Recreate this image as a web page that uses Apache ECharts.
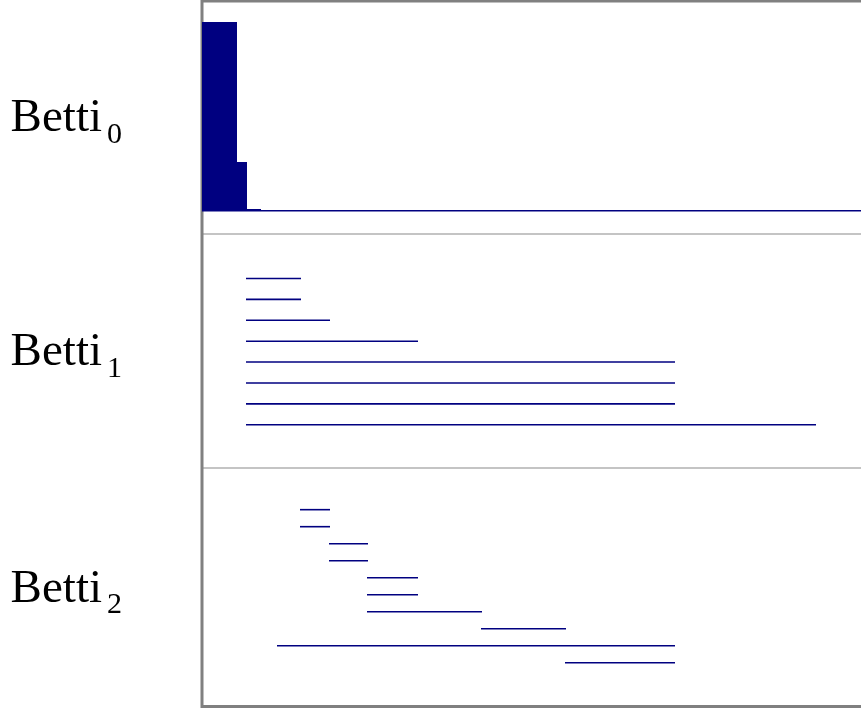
<!DOCTYPE html>
<html>
<head>
<meta charset="utf-8">
<script src="https://cdn.jsdelivr.net/npm/echarts@6/dist/echarts.min.js"></script>
<style>
  html, body { margin: 0; padding: 0; background: #fff; }
  #main { width: 861px; height: 720px; }
</style>
</head>
<body>
<div id="main"></div>
<script>
// barcode data: birth / death of each interval
var X_MAX = 6.63;
var betti0Deaths = [0.35, 0.45, 0.59, Infinity];
var betti0Counts = [140, 47, 1, 1];
var betti1Births = [0.44, 0.44, 0.44, 0.44, 0.44, 0.44, 0.44, 0.44];
var betti1Deaths = [0.99, 0.99, 1.28, 2.16, 4.73, 4.73, 4.73, 6.14];
var betti2Births = [0.98, 0.98, 1.27, 1.27, 1.65, 1.65, 1.65, 2.79, 0.75, 3.63];
var betti2Deaths = [1.28, 1.28, 1.66, 1.66, 2.16, 2.16, 2.80, 3.64, 4.73, 4.73];
var labels = ['0', '1', '2'];

var myChart = echarts.init(document.getElementById('main'));

// rows: [index, birth, death]
var rows0 = [];
betti0Deaths.forEach(function (d, k) {
    for (var j = 0; j < betti0Counts[k]; j++) {
        rows0.push([rows0.length, 0, d === Infinity ? X_MAX : d]);
    }
});
var toRows = function (births, deaths) {
    var res = [];
    births.forEach(function (b, i) {
        res.push([i, b, deaths[i] === Infinity ? X_MAX : deaths[i]]);
    });
    return res;
};
var rows1 = toRows(betti1Births, betti1Deaths);
var rows2 = toRows(betti2Births, betti2Deaths);

var barRenderer = function (width) {
    return function (params, api) {
        var a = api.coord([api.value(1), api.value(0)]);
        var b = api.coord([api.value(2), api.value(0)]);
        return {
            type: 'line',
            shape: { x1: a[0], y1: a[1], x2: b[0], y2: b[1] },
            style: { stroke: '#000080', lineWidth: width }
        };
    };
};

var panels = [
    { top: 0, height: 234, min: -22.7, max: 211.3 },
    { top: 234, height: 234, min: -2.13, max: 9.07 },
    { top: 468, height: 239, min: -2.45, max: 11.6 }
];

var grids = [], xAxes = [], yAxes = [];
panels.forEach(function (p, i) {
    grids.push({
        left: 202, width: 663, top: p.top, height: p.height,
        outerBoundsMode: 'none',
        show: true, backgroundColor: 'transparent',
        borderColor: '#c4c4c4', borderWidth: 2, z: 0
    });
    xAxes.push({ gridIndex: i, type: 'value', min: 0, max: X_MAX, show: false });
    yAxes.push({
        gridIndex: i, type: 'value', inverse: true, min: p.min, max: p.max,
        axisLine: { show: false }, axisTick: { show: false },
        axisLabel: { show: false }, splitLine: { show: false },
        name: '{b|Betti}{s|' + labels[i] + '}',
        nameLocation: 'middle', nameRotate: 0, nameGap: 80,
        nameTextStyle: {
            rich: {
                b: { fontFamily: 'Liberation Serif', fontSize: 47, lineHeight: 46,
                     padding: [4, 0, 0, 0], color: '#000' },
                s: { fontFamily: 'Liberation Serif', fontSize: 30, lineHeight: 18,
                     padding: [36, 0, 0, 5], color: '#000' }
            }
        }
    });
});
// outer frame
grids.push({
    left: 202, width: 720, top: 1, bottom: 13.5,
    outerBoundsMode: 'none',
    show: true, backgroundColor: 'transparent',
    borderColor: '#808080', borderWidth: 3, z: 1
});
xAxes.push({ gridIndex: 3, type: 'value', show: false });
yAxes.push({ gridIndex: 3, type: 'value', show: false });

var option = {
    animation: false,
    grid: grids,
    xAxis: xAxes,
    yAxis: yAxes,
    series: [
        { type: 'custom', xAxisIndex: 0, yAxisIndex: 0, renderItem: barRenderer(1.5),
          encode: { x: [1, 2], y: 0 }, data: rows0, z: 2 },
        { type: 'custom', xAxisIndex: 1, yAxisIndex: 1, renderItem: barRenderer(1.6),
          encode: { x: [1, 2], y: 0 }, data: rows1, z: 2 },
        { type: 'custom', xAxisIndex: 2, yAxisIndex: 2, renderItem: barRenderer(1.6),
          encode: { x: [1, 2], y: 0 }, data: rows2, z: 2 }
    ]
};
myChart.setOption(option);
</script>
</body>
</html>
